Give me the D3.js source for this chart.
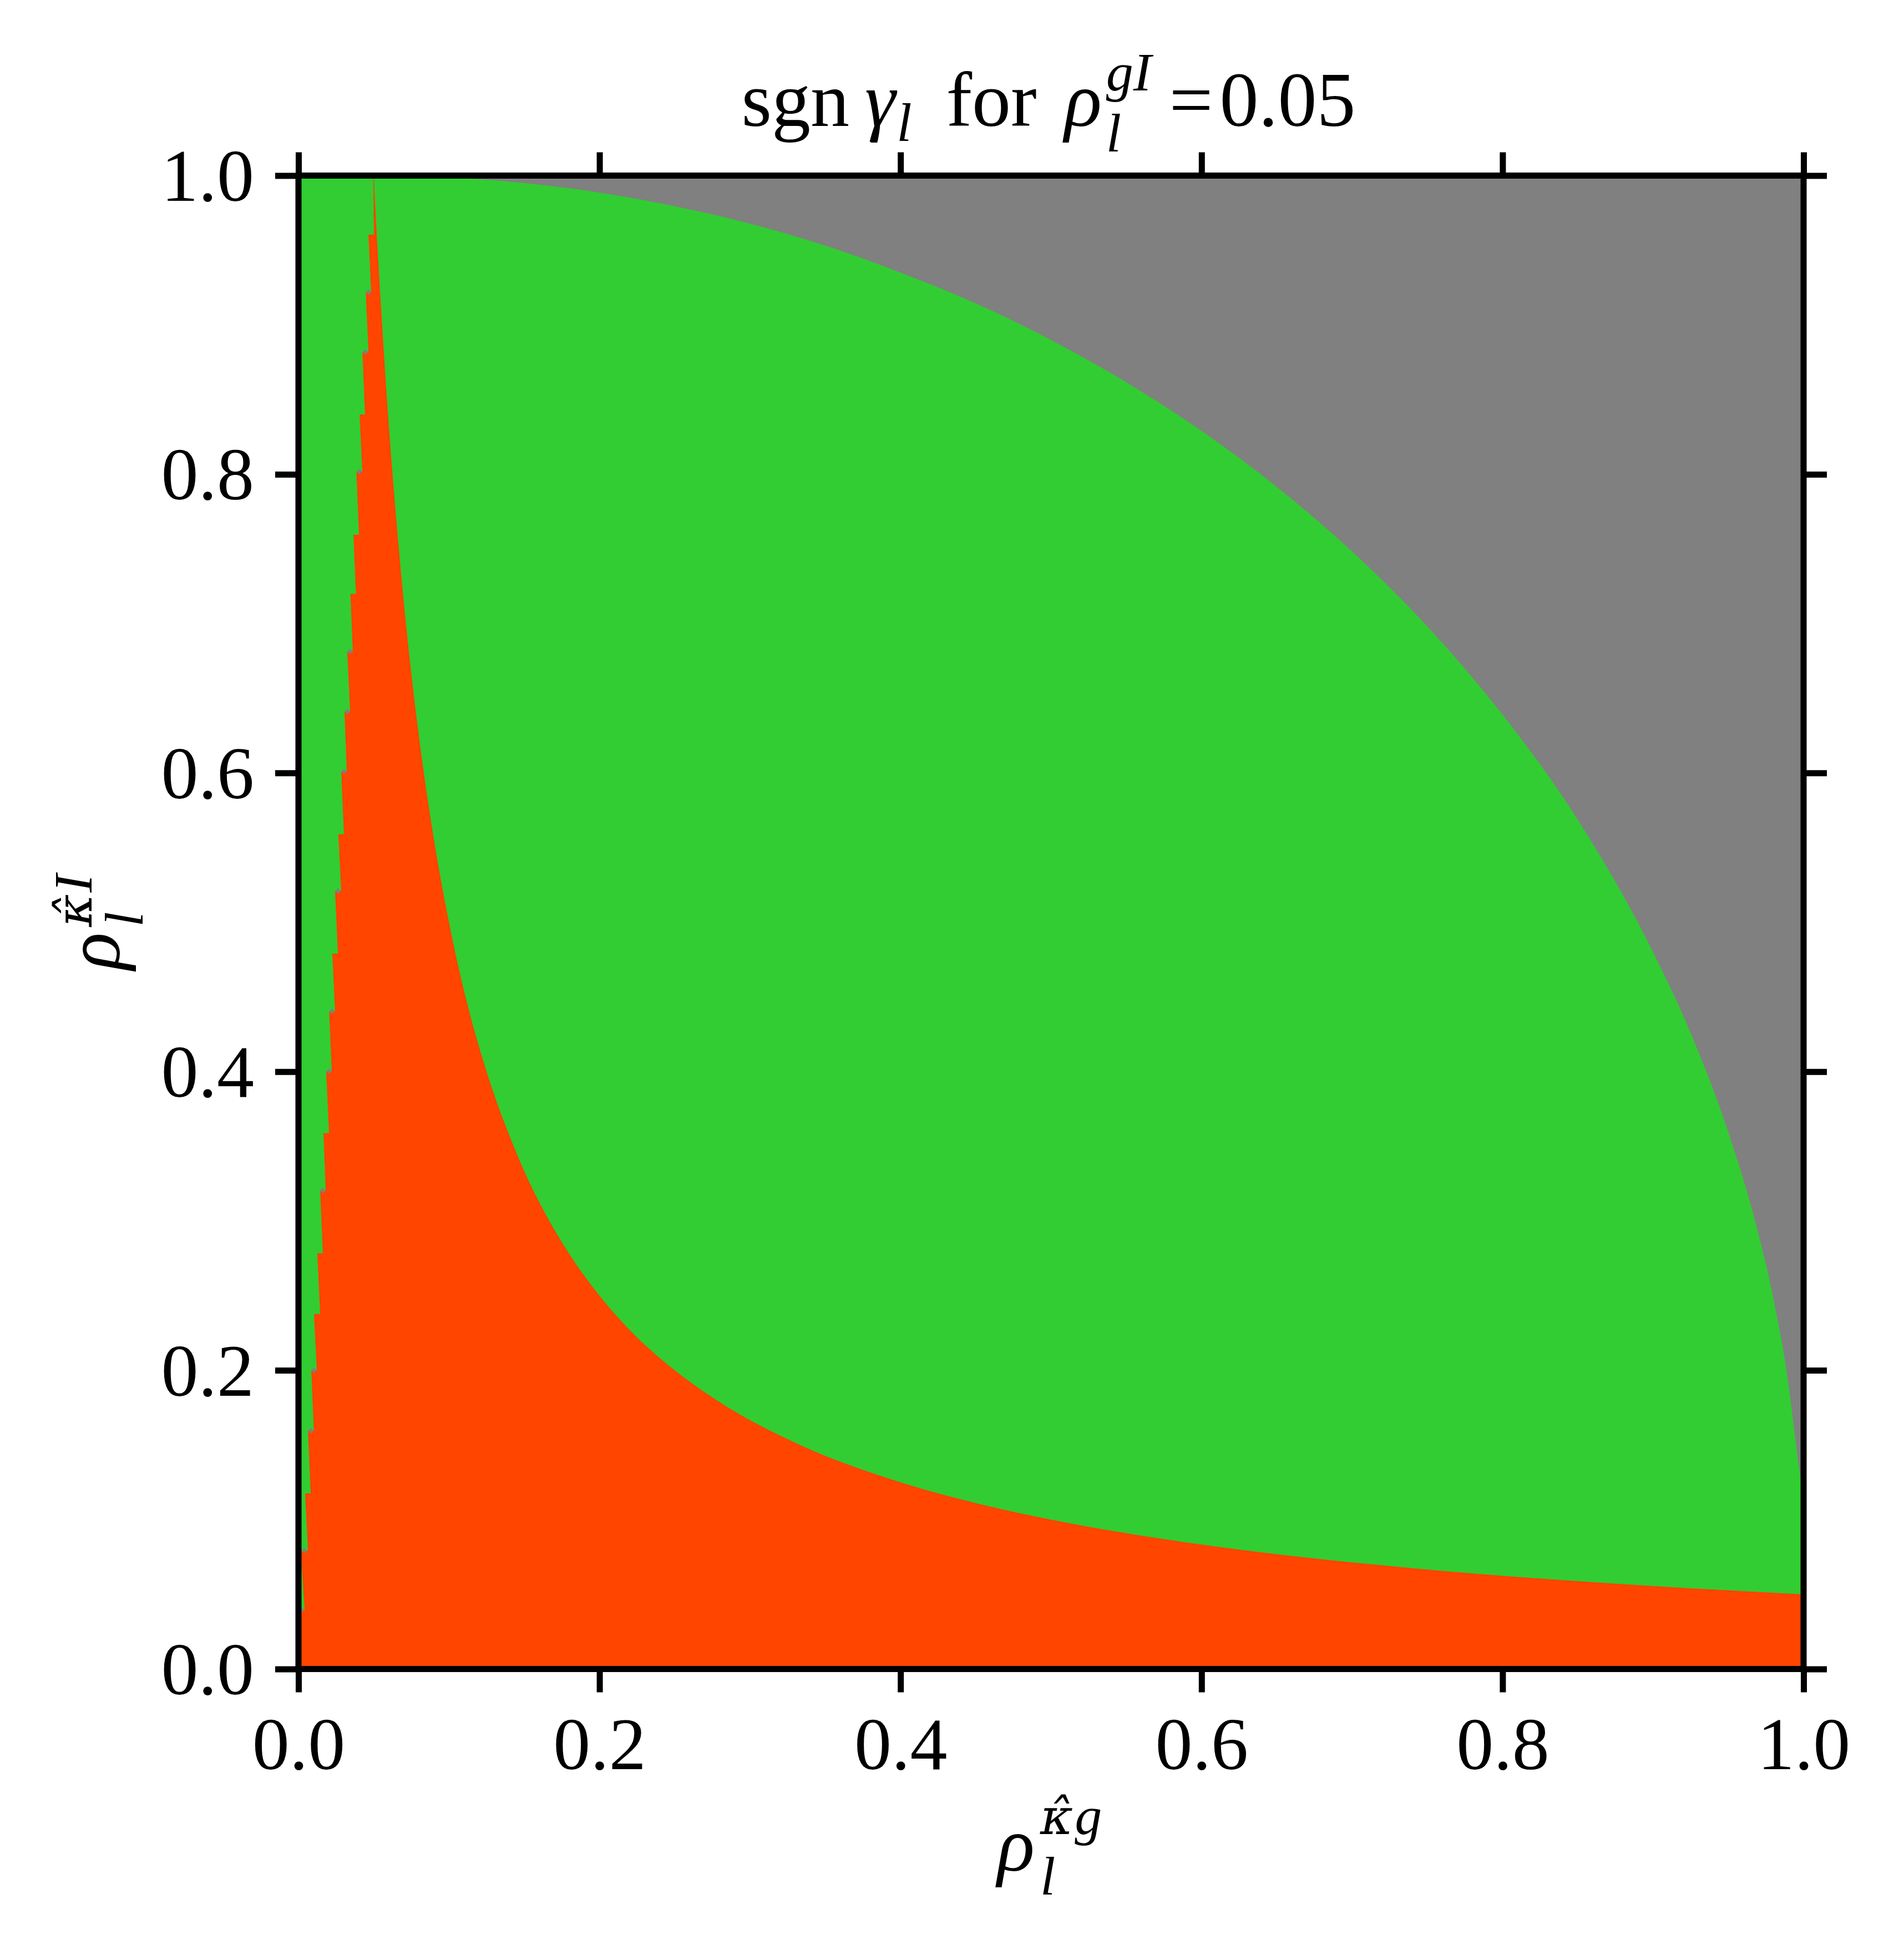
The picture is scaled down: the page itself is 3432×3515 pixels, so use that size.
<!DOCTYPE html>
<html><head><meta charset="utf-8">
<script src="https://cdn.jsdelivr.net/npm/d3@7"></script>
<style>html,body{margin:0;padding:0;background:#fff;} svg{display:block;}</style>
</head><body>
<svg id="chart" width="3432" height="3515"></svg>
<script>
// ---------------- data ----------------
const rhoGI = "0.05";
const xTickValues = [0, 0.2, 0.4, 0.6, 0.8, 1.0];
const yTickValues = [0, 0.2, 0.4, 0.6, 0.8, 1.0];
const xTickLabels = ["0.0", "0.2", "0.4", "0.6", "0.8", "1.0"];
const yTickLabels = ["0.0", "0.2", "0.4", "0.6", "0.8", "1.0"];

// edge of the grey (undefined) region, top-right
const grayEdgeX = [0.05, 0.10, 0.15, 0.20, 0.25, 0.30, 0.35, 0.40, 0.45, 0.50, 0.55, 0.60, 0.65, 0.70, 0.75, 0.80, 0.85, 0.90, 0.925, 0.95, 0.97, 0.98, 0.99, 0.995, 1.0];
const grayEdgeY = [1.0, 0.9987, 0.995, 0.9886, 0.9795, 0.9678, 0.9531, 0.935, 0.9144, 0.8899, 0.8616, 0.829, 0.7915, 0.7483, 0.6981, 0.639, 0.5686, 0.480, 0.4258, 0.3594, 0.2913, 0.2478, 0.1904, 0.150, 0.113];

// upper/right edge of the red region
const redEdgeX = [0.05, 0.0526, 0.0556, 0.0588, 0.0625, 0.0667, 0.0714, 0.0769, 0.0833, 0.0909, 0.100, 0.111, 0.125, 0.143, 0.1538, 0.1667, 0.1818, 0.200, 0.222, 0.250, 0.2857, 0.3333, 0.400, 0.4545, 0.500, 0.5556, 0.625, 0.7143, 0.8333, 0.9091, 1.0];
const redEdgeY = [1.0, 0.95, 0.90, 0.85, 0.80, 0.75, 0.70, 0.65, 0.60, 0.55, 0.50, 0.45, 0.40, 0.35, 0.325, 0.30, 0.275, 0.25, 0.225, 0.20, 0.175, 0.15, 0.125, 0.11, 0.10, 0.09, 0.08, 0.07, 0.06, 0.055, 0.05];

// saw-tooth left edge of the red region (junctions, top to bottom)
const redLeftTopX = 0.0497;
const junctionY      = [0.9604, 0.922, 0.882, 0.840, 0.8018, 0.7595, 0.7199, 0.6814, 0.6411, 0.6010, 0.5590, 0.5209, 0.479, 0.4404, 0.4003, 0.3588, 0.3204, 0.2784, 0.2377, 0.2001, 0.1596, 0.1176, 0.0793, 0.0396];
const junctionXAbove = [0.0501, 0.0483, 0.0465, 0.0442, 0.0424, 0.0402, 0.0382, 0.0361, 0.0343, 0.0321, 0.0302, 0.0284, 0.0262, 0.0243, 0.0221, 0.0203, 0.0181, 0.0162, 0.0144, 0.0122, 0.0102, 0.0081, 0.0063, 0.0041];
const junctionXBelow = [0.0465, 0.0447, 0.0425, 0.0406, 0.0385, 0.0365, 0.0345, 0.0324, 0.0306, 0.0284, 0.0265, 0.0243, 0.0225, 0.0204, 0.0184, 0.0166, 0.0144, 0.0125, 0.0103, 0.0085, 0.0063, 0.0044, 0.0015, 0.0];
const grayDotJunctions = [2, 3, 5, 8, 9, 10, 12, 14, 15, 17, 20, 21, 23, 24];

// ---------------- layout ----------------
const W = 3432, H = 3515;
const plot = {left: 538, right: 3251, top: 316.5, bottom: 3008.5};
const FONT = "'Liberation Serif', 'DejaVu Serif', serif";
const HATFONT = "'DejaVu Serif', serif";
const COL_GREEN = "#32cd32", COL_RED = "#ff4500", COL_GRAY = "#808080";
const LW = 11, TICK = 42;

const x = d3.scaleLinear().domain([0, 1]).range([plot.left, plot.right]);
const y = d3.scaleLinear().domain([0, 1]).range([plot.bottom, plot.top]);

const svg = d3.select("#chart");
svg.append("rect").attr("width", W).attr("height", H).attr("fill", "#fff");

svg.append("defs").append("clipPath").attr("id", "plotClip")
  .append("rect").attr("x", plot.left).attr("y", plot.top)
  .attr("width", plot.right - plot.left).attr("height", plot.bottom - plot.top);

const g = svg.append("g").attr("clip-path", "url(#plotClip)");

// green background
g.append("rect").attr("x", plot.left).attr("y", plot.top)
  .attr("width", plot.right - plot.left).attr("height", plot.bottom - plot.top)
  .attr("fill", COL_GREEN);

const curveLine = d3.line().x(d => x(d[0])).y(d => y(d[1])).curve(d3.curveMonotoneX);
const P = (a, b) => `L${x(a)},${y(b)}`;

// grey region
const grayPts = grayEdgeX.map((v, i) => [v, grayEdgeY[i]]);
g.append("path")
  .attr("d", curveLine(grayPts) + P(1.05, grayEdgeY[grayEdgeY.length - 1]) + P(1.05, 1.05) + P(0.05, 1.05) + "Z")
  .attr("fill", COL_GRAY);

// red region
const redPts = redEdgeX.map((v, i) => [v, redEdgeY[i]]);
let redPath = curveLine(redPts) + P(1.05, redEdgeY[redEdgeY.length - 1]) + P(1.05, -0.05) + P(-0.05, -0.05);
const n = junctionY.length;
redPath += P(-0.05, junctionY[n - 1]);
for (let i = n - 1; i >= 0; i--) {
  redPath += P(junctionXBelow[i], junctionY[i]) + P(junctionXAbove[i], junctionY[i]);
}
redPath += P(redLeftTopX, 1.0) + P(redLeftTopX, 1.05) + P(redEdgeX[0], 1.05) + "Z";
g.append("path").attr("d", redPath).attr("fill", COL_RED);

// small grey diamonds at some junctions
const diamond = d3.symbol().type(d3.symbolSquare).size(48);
g.selectAll("path.dot").data(grayDotJunctions).join("path")
  .attr("class", "dot")
  .attr("d", diamond)
  .attr("transform", j => `translate(${x((junctionXAbove[j - 1] + junctionXBelow[j - 1]) / 2)},${y(junctionY[j - 1])}) rotate(45)`)
  .attr("fill", COL_GRAY);

// ---------------- axes ----------------
function styleAxis(sel) {
  sel.select(".domain").remove();
  sel.selectAll(".tick line").attr("stroke", "#000").attr("stroke-width", LW);
  sel.attr("font-family", FONT).attr("font-size", 134);
  sel.selectAll(".tick text").attr("fill", "#000");
}
const axB = svg.append("g").attr("transform", `translate(0,${plot.bottom})`)
  .call(d3.axisBottom(x).tickValues(xTickValues).tickFormat((d, i) => xTickLabels[i]).tickSize(TICK).tickSizeOuter(0));
styleAxis(axB);
axB.selectAll(".tick text").attr("y", 180).attr("dy", "0");

const axL = svg.append("g").attr("transform", `translate(${plot.left},0)`)
  .call(d3.axisLeft(y).tickValues(yTickValues).tickFormat((d, i) => yTickLabels[i]).tickSize(TICK).tickSizeOuter(0));
styleAxis(axL);
axL.selectAll(".tick text").attr("x", -80).attr("y", 45).attr("dy", "0");

const axT = svg.append("g").attr("transform", `translate(0,${plot.top})`)
  .call(d3.axisTop(x).tickValues(xTickValues).tickFormat(() => "").tickSize(TICK).tickSizeOuter(0));
styleAxis(axT);
const axR = svg.append("g").attr("transform", `translate(${plot.right},0)`)
  .call(d3.axisRight(y).tickValues(yTickValues).tickFormat(() => "").tickSize(TICK).tickSizeOuter(0));
styleAxis(axR);

// frame
svg.append("rect").attr("x", plot.left).attr("y", plot.top)
  .attr("width", plot.right - plot.left).attr("height", plot.bottom - plot.top)
  .attr("fill", "none").attr("stroke", "#000").attr("stroke-width", LW).attr("stroke-linejoin", "miter");

// ---------------- math-like text layout ----------------
const BIG = 140, SMALL = 98;
// pieces: {t, s, it, dy, gap}  or  {sub, sup, subDy, supDy, hat, gap} (sub & sup stacked in one text element)
function mathText(parent, pieces, centerX) {
  const grp = parent.append("g");
  let cur = 0;
  pieces.forEach(p => {
    const el = grp.append("text").attr("font-family", FONT).attr("fill", "#000").attr("y", 0);
    let w;
    if (p.sub !== undefined) {
      el.attr("font-size", SMALL).attr("font-style", "italic");
      const ts = el.append("tspan").text(p.sub).attr("dy", p.subDy);
      const wsub = ts.node().getComputedTextLength();
      const first = p.hat ? p.sup[0] + "\u0302" : p.sup[0];
      const rest = p.sup.slice(1);
      const t1 = el.append("tspan").text(first).attr("dx", -wsub).attr("dy", p.supDy - p.subDy);
      if (p.hat) t1.attr("font-family", HATFONT).attr("font-size", SMALL * 0.92);
      let wsup = t1.node().getComputedTextLength();
      if (rest) {
        const t2 = el.append("tspan").text(rest).attr("dx", p.hat ? 3 : 0);
        wsup += t2.node().getComputedTextLength() + (p.hat ? 3 : 0);
      }
      w = Math.max(wsub, wsup);
    } else {
      el.attr("font-size", p.s || BIG).attr("font-style", p.it ? "italic" : "normal")
        .attr("y", p.dy || 0).text(p.t);
      w = el.node().getComputedTextLength();
    }
    const px = cur + (p.gap || 0);
    el.attr("x", px);
    cur = px + w;
  });
  grp.attr("transform", `translate(${centerX - cur / 2},0)`);
  return grp;
}

// title: sgn γ_l for ρ_l^{gI}=0.05
const tg = svg.append("g").attr("transform", "translate(0,227)");
mathText(tg, [
  {t: "sgn"},
  {t: "γ", it: true, gap: 28},
  {t: "l", s: SMALL, it: true, dy: 27, gap: 2},
  {t: "for", gap: 62},
  {t: "ρ", it: true, gap: 50},
  {sub: "l", sup: "gI", subDy: 46, supDy: -64, gap: 8},
  {t: "=", gap: 32},
  {t: rhoGI, gap: 12}
], 1890);

// x label: ρ_l^{κ̂ g}
const xl = svg.append("g").attr("transform", "translate(0,3372)");
mathText(xl, [
  {t: "ρ", it: true},
  {sub: "l", sup: "κg", subDy: 43, supDy: -66, hat: true, gap: 10}
], 1892);

// y label: ρ_l^{κ̂ I}  (rotated)
const yl = svg.append("g").attr("transform", "translate(215,0) rotate(-90)");
mathText(yl, [
  {t: "ρ", it: true},
  {sub: "l", sup: "κI", subDy: 42, supDy: -50, hat: true, gap: 10}
], -1662);
</script>
</body></html>
